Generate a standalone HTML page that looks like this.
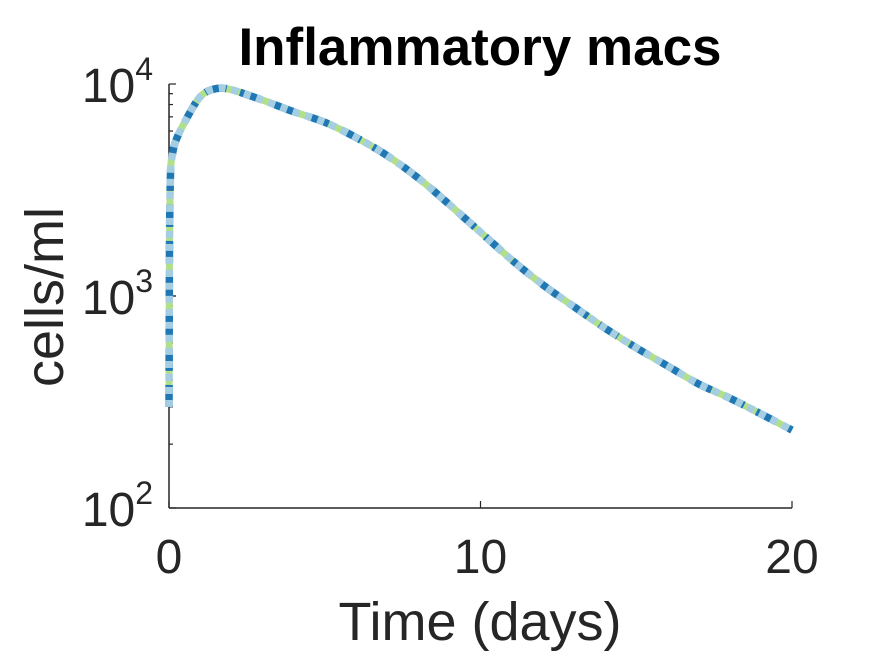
<!DOCTYPE html>
<html><head><meta charset="utf-8"><style>
body{margin:0;background:#fff;}
svg{display:block;font-family:"Liberation Sans",Arial,sans-serif;}
</style></head><body>
<svg id="chart" width="875" height="656" viewBox="0 0 875 656">
<rect width="875" height="656" fill="#fff"/>
<text x="480" y="65" text-anchor="middle" font-size="53" font-weight="bold" fill="#000">Inflammatory macs</text>
<g id="axes"></g>
<g id="series"></g>
<text x="480" y="640" text-anchor="middle" font-size="54" fill="#262626">Time (days)</text>
<text transform="translate(63,297) rotate(-90)" text-anchor="middle" font-size="54" fill="#262626">cells/ml</text>
</svg>
<script>
const times=[0,0.01,0.02,0.05,0.1,0.2,0.5,1,1.5,2,3,4,5,6,7,8,9,10,11,12,13,14,15,16,17,18,19,20];
const cells=[300,1000,2000,3900,4550,5300,6600,8700,9500,9400,8400,7400,6600,5600,4600,3600,2700,2000,1480,1130,890,705,570,468,385,330,278,233];
const xTicks=[0,10,20];
const yTickExps=[2,3,4];
const seriesNames=['green-solid','blue-dashed','lightblue-dotted'];
const NS='http://www.w3.org/2000/svg';
const X0=169,X1=792,Y0=508,DEC=212;
function xs(t){return X0+(t-0)/(20-0)*(X1-X0);}
function ys(v){return Y0-(Math.log10(v)-2)*DEC;}
const axes=document.getElementById('axes');
function mk(tag,attrs,parent){const e=document.createElementNS(NS,tag);for(const k in attrs)e.setAttribute(k,attrs[k]);parent.appendChild(e);return e;}
let l=mk('line',{x1:X0,y1:Y0,x2:X1,y2:Y0,stroke:'#262626','stroke-width':1.5},axes);


l=mk('line',{x1:X0,y1:Y0,x2:X0,y2:ys(10000)},axes);
l.setAttribute('stroke','#262626');l.setAttribute('stroke-width','1.5');


xTicks.forEach(t=>{
  const tk=mk('line',{x1:xs(t),y1:Y0,x2:xs(t),y2:Y0-7,stroke:'#262626','stroke-width':1.2},axes);
  
  
  const tx=mk('text',{x:xs(t),y:573,'text-anchor':'middle','font-size':48,fill:'#262626'},axes);
  tx.textContent=t;
  
  
});
for(let e=2;e<4;e++){for(let m=1;m<=10;m++){const v=m*Math.pow(10,e);
  const len=(m===1||m===10)?7:4;
  const tk=mk('line',{x1:X0,y1:ys(v),x2:X0+len,y2:ys(v),stroke:'#262626','stroke-width':1.2},axes);
  
  
}}
yTickExps.forEach(e=>{
  const tx=mk('text',{x:153,y:ys(Math.pow(10,e))+18,'text-anchor':'end','font-size':48,fill:'#262626'},axes);
  tx.innerHTML='10<tspan dy="-22" font-size="32">'+e+'</tspan>';
  
  
});
const sg=document.getElementById('series');
const P=times.map((t,i)=>[xs(t),ys(cells[i])]);
let d='M'+P[0][0].toFixed(1)+','+P[0][1].toFixed(1);
for(let i=0;i<P.length-1;i++){
  const p0=P[Math.max(0,i-1)],p1=P[i],p2=P[i+1],p3=P[Math.min(P.length-1,i+2)];
  const c1=[p1[0]+(p2[0]-p0[0])/6,p1[1]+(p2[1]-p0[1])/6];
  const c2=[p2[0]-(p3[0]-p1[0])/6,p2[1]-(p3[1]-p1[1])/6];
  d+=' C'+c1[0].toFixed(1)+','+c1[1].toFixed(1)+' '+c2[0].toFixed(1)+','+c2[1].toFixed(1)+' '+p2[0].toFixed(1)+','+p2[1].toFixed(1);
}
const styles=[{stroke:'#b2df8a',w:7,dash:''},{stroke:'#1f78b4',w:7.5,dash:'22,14'},{stroke:'#a6cee3',w:7.5,dash:'7,6'}];
styles.forEach((s,i)=>{
  const p=mk('path',{d:d,fill:'none',stroke:s.stroke,'stroke-width':s.w,'stroke-linejoin':'round'},sg);
  if(s.dash)p.setAttribute('stroke-dasharray',s.dash);
  
  
});
</script>
</body></html>
